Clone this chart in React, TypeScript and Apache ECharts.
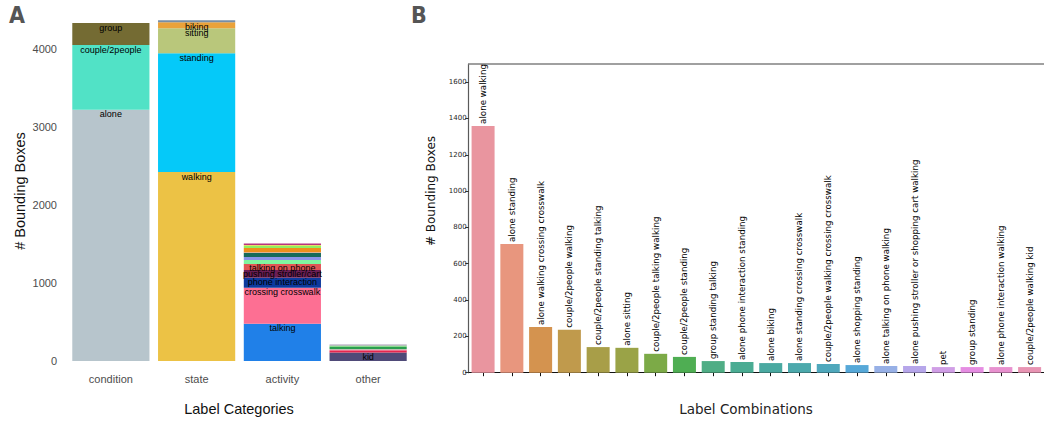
import React, { useEffect, useRef } from "react";
import * as echarts from "echarts";

// ---------- Panel A data ----------
const categories = ["condition", "state", "activity", "other"];

const conditionNames = ["alone", "couple/2people", "group"];
const conditionValues = [3220, 830, 283];
const conditionColors = ["#b7c5cc", "#51e2c6", "#746b33"];

const stateNames = ["walking", "standing", "sitting", "biking", "shopping"];
const stateValues = [2423, 1522, 320, 78, 25];
const stateColors = ["#ecc245", "#05c9f9", "#b9c77b", "#eaa23a", "#778ea6"];

const activityNames = [
  "talking",
  "crossing crosswalk",
  "phone interaction",
  "pushing stroller/cart",
  "talking on phone",
  "looking at phone",
  "carrying",
  "waiting",
  "eating",
  "running",
  "skating",
  "reading",
  "wheelchair",
];
const activityValues = [478, 462, 128, 99, 77, 50, 40, 55, 10, 50, 25, 12, 20];
const activityColors = [
  "#2080e8", "#fd6f93", "#0d3a9e", "#6b1e55", "#e05555", "#80f5a0", "#8a93e8",
  "#176a5a", "#e8a47a", "#ee8f1c", "#90f060", "#e6de6a", "#b8357e",
];

const otherNames = ["kid", "pet", "umbrella", "bag", "luggage", "animal"];
const otherValues = [108, 30, 13, 33, 15, 13];
const otherColors = ["#4f4a78", "#e5264e", "#f3b6cc", "#2a9f4e", "#7ad67a", "#a99ab5"];

const labeledSegments = [
  "alone", "couple/2people", "group",
  "walking", "standing", "sitting", "biking",
  "talking", "crossing crosswalk", "phone interaction", "pushing stroller/cart", "talking on phone",
  "kid",
];

// ---------- Panel B data ----------
const combos = [
  "alone walking",
  "alone standing",
  "alone walking crossing crosswalk",
  "couple/2people walking",
  "couple/2people standing talking",
  "alone sitting",
  "couple/2people talking walking",
  "couple/2people standing",
  "group standing talking",
  "alone phone interaction standing",
  "alone biking",
  "alone standing crossing crosswalk",
  "couple/2people walking crossing crosswalk",
  "alone shopping standing",
  "alone talking on phone walking",
  "alone pushing stroller or shopping cart walking",
  "pet",
  "group standing",
  "alone phone interaction walking",
  "couple/2people walking kid",
];
const comboValues = [1359, 709, 252, 236, 141, 137, 104, 87, 64, 59, 53, 53, 48, 42, 37, 37, 31, 31, 31, 31];
const comboColors = [
  "#e9959f", "#e8967e", "#d4934f", "#c09a4c", "#a89e48", "#9aa347", "#7caa47",
  "#4fae53", "#4fad85", "#4aac93", "#4aa9a1", "#4ca9ac", "#4fa8bc", "#56a8d8",
  "#97b0e6", "#b6a6ea", "#d09ee6", "#e58de2", "#e891cf", "#e894b3",
];
const yTicksB = [0, 200, 400, 600, 800, 1000, 1200, 1400, 1600];

export default function App() {
  const ref = useRef<HTMLDivElement>(null);

  useEffect(() => {
    if (!ref.current) return;
    const chart = echarts.init(ref.current, undefined, { renderer: "svg" });

    const groups = [
      { cat: 0, names: conditionNames, values: conditionValues, colors: conditionColors },
      { cat: 1, names: stateNames, values: stateValues, colors: stateColors },
      { cat: 2, names: activityNames, values: activityValues, colors: activityColors },
      { cat: 3, names: otherNames, values: otherValues, colors: otherColors },
    ];

    const seriesA: any[] = [];
    groups.forEach((g) => {
      g.names.forEach((n, i) => {
        seriesA.push({
          type: "bar",
          name: n,
          stack: "A",
          xAxisIndex: 0,
          yAxisIndex: 0,
          barWidth: "90%",
          data: categories.map((_, c) => (c === g.cat ? g.values[i] : "-")),
          itemStyle: { color: g.colors[i] },
          label: {
            show: labeledSegments.includes(n),
            position: "insideTop",
            distance: 0,
            formatter: n,
            fontSize: 9,
            color: "#000",
            fontFamily: "Liberation Sans",
          },
        });
      });
    });

    const option: any = {
      animation: false,
      backgroundColor: "#fff",
      grid: [
        { left: 68, width: 343, top: 10, bottom: 60 },
        { left: 468.7, right: -9, top: 64, bottom: 48.3 },
      ],
      xAxis: [
        {
          type: "category",
          gridIndex: 0,
          data: categories,
          axisLine: { show: false },
          axisTick: { show: false },
          axisLabel: { color: "#4d4d4d", fontSize: 11, fontFamily: "Liberation Sans", margin: 12 },
        },
        {
          type: "category",
          gridIndex: 1,
          data: combos,
          axisLine: { show: true, lineStyle: { color: "#111", width: 1.2 } },
          axisTick: { show: true, alignWithLabel: true, interval: 0, length: 3.5, lineStyle: { color: "#111" } },
          axisLabel: { show: false, interval: 0 },
        },
        {
          type: "category",
          gridIndex: 1,
          position: "top",
          data: combos,
          axisLine: { show: true, onZero: false, lineStyle: { color: "#808080", width: 1.5 } },
          axisTick: { show: false },
          axisLabel: { show: false },
        },
      ],
      yAxis: [
        {
          type: "value",
          gridIndex: 0,
          min: 0,
          max: 4500,
          interval: 1000,
          axisLine: { show: false },
          axisTick: { show: false },
          splitLine: { show: false },
          axisLabel: {
            color: "#4d4d4d",
            fontSize: 11,
            fontFamily: "Liberation Sans",
            margin: 11,
            formatter: (v: number) => (v % 1000 === 0 ? String(v) : ""),
          },
        },
        {
          type: "value",
          gridIndex: 1,
          min: 0,
          max: 1700,
          interval: 200,
          axisLine: { show: true, lineStyle: { color: "#5a5a5a", width: 1.2 } },
          axisTick: { show: true, length: 3.5, customValues: yTicksB, lineStyle: { color: "#333" } },
          splitLine: { show: false },
          axisLabel: {
            color: "#262626",
            fontSize: 7,
            fontFamily: "DejaVu Sans",
            margin: 2,
            customValues: yTicksB,
            formatter: (v: number) => String(v),
          },
        },
      ],
      series: [
        ...seriesA,
        {
          type: "bar",
          xAxisIndex: 1,
          yAxisIndex: 1,
          barWidth: "80%",
          data: comboValues.map((v, i) => ({ value: v, itemStyle: { color: comboColors[i] } })),
          label: {
            show: true,
            position: "top",
            rotate: 90,
            align: "left",
            verticalAlign: "middle",
            distance: 2,
            formatter: "{b}",
            fontSize: 8.7,
            fontFamily: "DejaVu Sans",
            color: "#000",
          },
        },
      ],
      graphic: [
        {
          type: "text",
          left: 9,
          top: 3,
          style: { text: "A", fontSize: 23, fontWeight: "bold", fontFamily: "DejaVu Sans Condensed", fill: "#555" },
        },
        {
          type: "text",
          left: 411,
          top: 3,
          style: { text: "B", fontSize: 23, fontWeight: "bold", fontFamily: "DejaVu Sans Condensed", fill: "#555" },
        },
        {
          type: "text",
          x: 20,
          y: 191,
          rotation: Math.PI / 2,
          style: {
            text: "# Bounding Boxes",
            fontSize: 14.5,
            fontFamily: "Liberation Sans",
            fill: "#111",
            textAlign: "center",
            textVerticalAlign: "middle",
          },
        },
        {
          type: "text",
          x: 239,
          y: 409,
          style: {
            text: "Label Categories",
            fontSize: 14.5,
            fontFamily: "Liberation Sans",
            fill: "#111",
            textAlign: "center",
            textVerticalAlign: "middle",
          },
        },
        {
          type: "text",
          x: 431,
          y: 191,
          rotation: Math.PI / 2,
          style: {
            text: "# Bounding Boxes",
            fontSize: 12,
            fontFamily: "DejaVu Sans",
            fill: "#111",
            textAlign: "center",
            textVerticalAlign: "middle",
          },
        },
        {
          type: "text",
          x: 746,
          y: 409,
          style: {
            text: "Label Combinations",
            fontSize: 13.5,
            fontFamily: "DejaVu Sans",
            fill: "#222",
            textAlign: "center",
            textVerticalAlign: "middle",
          },
        },
      ],
    };

    chart.setOption(option);
    return () => chart.dispose();
  }, []);

  return (
    <div
      ref={ref}
      style={{ position: "fixed", left: 0, top: 0, width: 1044, height: 421, background: "#fff" }}
    />
  );
}
